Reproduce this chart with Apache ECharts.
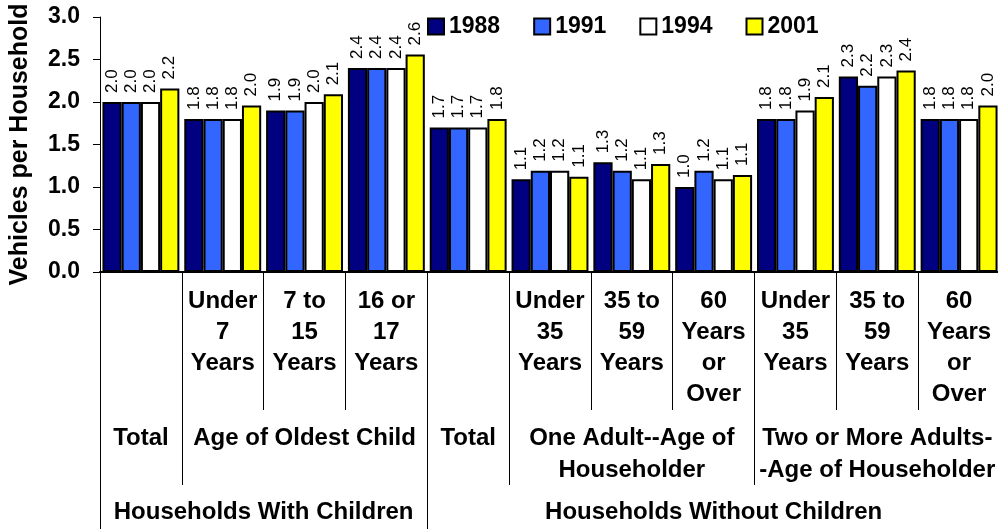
<!DOCTYPE html>
<html>
<head>
<meta charset="utf-8">
<script src="https://cdn.jsdelivr.net/npm/echarts@6/dist/echarts.min.js"></script>
<style>
  html, body { margin: 0; padding: 0; background: #fff; }
  #chart { width: 998px; height: 529px; }
</style>
</head>
<body>
<div id="chart"></div>
<script>
// sub categories (bottom row of bars)
const categories = ['', 'Under\n7\nYears', '7 to\n15\nYears', '16 or\n17\nYears', '',
  'Under\n35\nYears', '35 to\n59\nYears', '60\nYears\nor\nOver',
  'Under\n35\nYears', '35 to\n59\nYears', '60\nYears\nor\nOver']

// group rows: [label, first column, column after last]
const level2Groups = [
  ['Total', 0, 1],
  ['Age of Oldest Child', 1, 4],
  ['Total', 4, 5],
  ['One Adult--Age of\nHouseholder', 5, 8],
  ['Two or More Adults-\n-Age of Householder', 8, 11]
]
const level3Groups = [
  ['Households With Children', 0, 4],
  ['Households Without Children', 4, 11]
]

const years = ['1988', '1991', '1994', '2001']
const values1988 = [2.0, 1.8, 1.9, 2.4, 1.7, 1.09, 1.29, 1.0, 1.8, 2.3, 1.8]
const values1991 = [2.0, 1.8, 1.9, 2.4, 1.7, 1.19, 1.19, 1.19, 1.8, 2.19, 1.8]
const values1994 = [2.0, 1.8, 2.0, 2.4, 1.7, 1.19, 1.09, 1.09, 1.9, 2.3, 1.8]
const values2001 = [2.16, 1.96, 2.09, 2.56, 1.8, 1.12, 1.27, 1.14, 2.06, 2.37, 1.96]
const colors = ['#000080', '#3366ff', '#ffffff', '#ffff00']

const yTicks = [0, 0.5, 1.0, 1.5, 2.0, 2.5, 3.0]

const font = 'Liberation Sans'

// group axes use half-column points, so a label sits at (from + to)
function groupAxis(groups, tickLength, labelMargin) {
  const n = categories.length * 2 + 1
  const labels = new Array(n).fill('')
  const ticks = new Set([n - 1])
  groups.forEach(g => {
    labels[g[1] + g[2]] = g[0]
    ticks.add(g[1] * 2)
  })
  return {
    type: 'category',
    position: 'bottom',
    boundaryGap: false,
    data: labels.map((l, i) => l || ' '.repeat(i + 1)),
    axisLine: { show: false },
    axisTick: {
      show: true,
      length: tickLength,
      interval: (index) => ticks.has(index),
      lineStyle: { color: '#000', width: 1 }
    },
    axisLabel: {
      interval: 0,
      margin: labelMargin,
      color: '#000',
      fontFamily: font,
      fontWeight: 'bold',
      fontSize: 24,
      lineHeight: 32,
      formatter: (v) => v.trim()
    }
  }
}

const chart = echarts.init(document.getElementById('chart'))

const seriesValues = [values1988, values1991, values1994, values2001]

const option = {
  animation: false,
  textStyle: { fontFamily: font },
  legend: {
    data: years,
    left: 422,
    top: 10,
    icon: 'rect',
    itemWidth: 16,
    itemHeight: 16,
    itemGap: 33,
    itemStyle: { borderColor: '#000', borderWidth: 2 },
    textStyle: { fontFamily: font, fontWeight: 'bold', fontSize: 23, color: '#000' }
  },
  grid: {
    left: 100,
    top: 17,
    width: 900,
    height: 255,
    containLabel: false,
    outerBoundsMode: 'none'
  },
  xAxis: [
    {
      type: 'category',
      data: categories,
      axisLine: { lineStyle: { color: '#000', width: 2 } },
      axisTick: {
        show: true,
        interval: 0,
        length: 138,
        lineStyle: { color: '#000', width: 1 }
      },
      axisLabel: {
        interval: 0,
        margin: 14,
        color: '#000',
        fontFamily: font,
        fontWeight: 'bold',
        fontSize: 24,
        lineHeight: 31
      }
    },
    groupAxis(level2Groups, 213, 150),
    groupAxis(level3Groups, 257, 224)
  ],
  yAxis: {
    type: 'value',
    min: yTicks[0],
    max: yTicks[yTicks.length - 1],
    interval: 0.5,
    name: 'Vehicles per Household',
    nameLocation: 'middle',
    nameRotate: 90,
    nameGap: 67,
    nameTextStyle: { fontFamily: font, fontWeight: 'bold', fontSize: 25, color: '#000' },
    axisLine: { show: true, lineStyle: { color: '#000', width: 1 } },
    axisTick: { show: true, length: 7, lineStyle: { color: '#000' } },
    splitLine: { show: false },
    axisLabel: {
      margin: 20,
      color: '#000',
      fontFamily: font,
      fontWeight: 'bold',
      fontSize: 23,
      formatter: (v) => v.toFixed(1)
    }
  },
  series: years.map((y, i) => ({
    name: y,
    type: 'bar',
    xAxisIndex: 0,
    data: seriesValues[i],
    barGap: '0%',
    barCategoryGap: '6%',
    itemStyle: { color: colors[i], borderColor: '#000', borderWidth: 2 },
    label: {
      show: true,
      position: 'top',
      rotate: 90,
      align: 'left',
      verticalAlign: 'middle',
      distance: 9,
      color: '#000',
      fontFamily: font,
      fontSize: 17,
      formatter: (p) => p.value.toFixed(1)
    }
  }))
}

chart.setOption(option)
</script>
</body>
</html>
